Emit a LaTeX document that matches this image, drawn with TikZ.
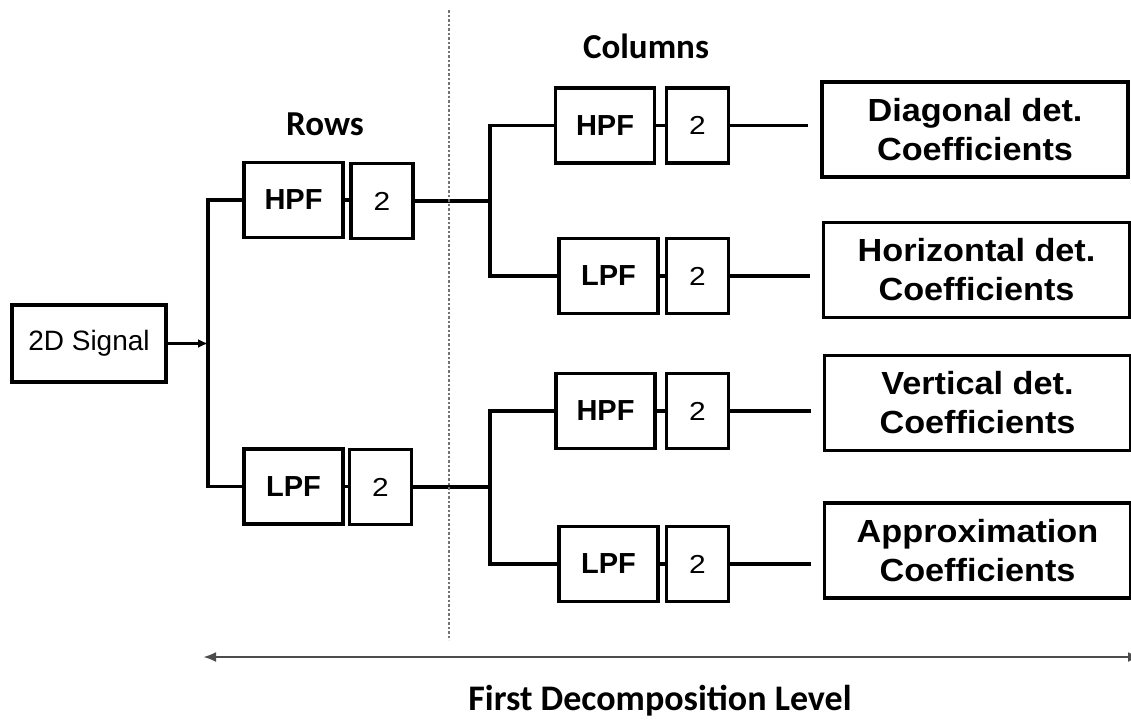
\documentclass[tikz,border=0pt]{standalone}
\usepackage{fontspec}
\setmainfont{Liberation Sans}
\newfontfamily\headfont{Carlito}
\newfontfamily\outfont[FakeStretch=1.07]{Liberation Sans}
\newfontfamily\digitfont[FakeStretch=1.15]{Liberation Sans}
\usetikzlibrary{arrows.meta}

\begin{document}
\begin{tikzpicture}[x=1pt,y=-1pt,
  blk/.style={draw, line width=3.2pt, inner sep=0pt, align=center},
  filt/.style={blk, minimum width=99pt, minimum height=75pt,
               font=\fontsize{29}{34}\selectfont\bfseries},
  dn/.style={blk, minimum width=62pt, minimum height=75pt,
             font=\digitfont\fontsize{26}{30}\selectfont},
  outbox/.style={blk, minimum width=306pt, minimum height=95pt,
                 font=\outfont\bfseries\fontsize{32}{39}\selectfont},
  wire/.style={line width=3.2pt},
  head/.style={anchor=base, font=\headfont\bfseries\fontsize{35}{40}\selectfont}]

\clip (0,0) rectangle (1131,720);
\fill[white] (0,0) rectangle (1131,720);

% input
\node[blk, minimum width=154pt, minimum height=77pt,
      font=\fontsize{28}{32}\selectfont] (sig) at (89,343.5) {2D Signal};

% row filtering stage
\node[filt] (rh)  at (293.5,200)   {HPF};
\node[dn]   (r2a) at (382,201)     {2};
\node[filt] (rl)  at (293.5,486.5) {LPF};
\node[dn]   (r2b) at (380.5,487)   {2};

% column filtering stage
\node[filt] (ch1) at (605,125.5) {HPF};
\node[dn]   (c2a) at (697.5,125.5) {2};
\node[filt] (cl1) at (608.5,276) {LPF};
\node[dn]   (c2b) at (697.5,276) {2};
\node[filt] (ch2) at (605.5,411) {HPF};
\node[dn]   (c2c) at (697.5,411) {2};
\node[filt] (cl2) at (608.5,564) {LPF};
\node[dn]   (c2d) at (697.5,564) {2};

% resulting sub-bands
\node[outbox] (diag) at (975,129.5)   {Diagonal det.\\Coefficients};
\node[outbox] (hor)  at (976.5,270)   {Horizontal det.\\Coefficients};
\node[outbox] (ver)  at (977.5,403)   {Vertical det.\\Coefficients};
\node[outbox] (app)  at (977.5,550.5) {Approximation\\Coefficients};

% stage titles
\node[head] (rows) at (325,135) {Rows};
\node[head] (cols) at (646,58)  {Columns};
\node[head, font=\headfont\bfseries\fontsize{36}{40}\selectfont] (lvl) at (660,710)
  {First Decomposition Level};

% branch points
\coordinate (j0) at (208,343.5);
\coordinate (j1) at (490,201);
\coordinate (j2) at (490,487);

% wiring
\draw[wire, -{Latex[length=10pt,width=9pt]}] (sig.east) -- (j0);
\draw[wire] (rh.west) -| (j0) |- (rl.west);
\draw[wire] (rh.east) -- (rh.east -| r2a.west);
\draw[wire] (rl.east) -- (rl.east -| r2b.west);
\draw[wire] (r2a.east) -- (j1);
\draw[wire] (r2b.east) -- (j2);
\draw[wire] (ch1.west) -| (j1) |- (cl1.west);
\draw[wire] (ch2.west) -| (j2) |- (cl2.west);
\foreach \f/\d in {ch1/c2a, cl1/c2b, ch2/c2c, cl2/c2d}
  \draw[wire] (\f.east) -- (\f.east -| \d.west);
\draw[wire, shorten >=12pt] (c2a.east) -- (c2a.east -| diag.west);
\draw[wire, shorten >=12pt] (c2b.east) -- (c2b.east -| hor.west);
\draw[wire, shorten >=12pt] (c2c.east) -- (c2c.east -| ver.west);
\draw[wire, shorten >=12pt] (c2d.east) -- (c2d.east -| app.west);

% divider between row and column stages
\coordinate (dv1) at (449,10);
\coordinate (dv2) at (449,640);
\draw[black!55, line width=1.6pt, dash pattern=on 2.5pt off 2pt] (dv1) -- (dv2);

% extent of the decomposition level
\coordinate (lvA) at (203,657);
\coordinate (lvB) at (1141,657);
\draw[black!70, line width=2.8pt,
      {Latex[length=13pt,width=10pt]}-{Latex[length=13pt,width=10pt]}] (lvA) -- (lvB);
\end{tikzpicture}
\end{document}
